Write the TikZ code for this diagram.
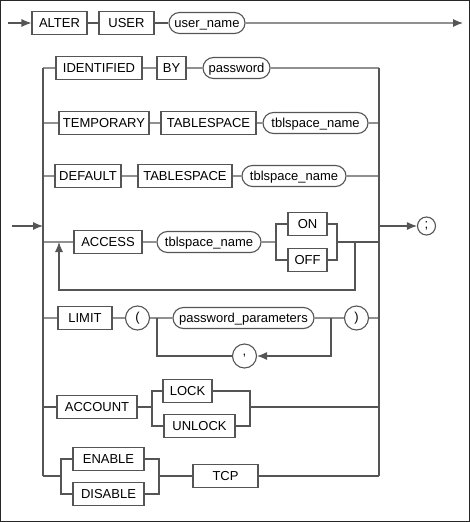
\documentclass[tikz,border=0pt]{standalone}
\usepackage{fontspec}
\setmainfont{Liberation Sans}
\usepackage{tikz}
\usetikzlibrary{shapes.misc,arrows.meta}
\definecolor{rail}{HTML}{555555}
\tikzset{kw/.style={draw=rail, text=black, minimum height=23pt, inner sep=1pt, text height=9.3pt, text depth=0pt, minimum width=#1},
kw/.default={40pt},
%ovals for names
var/.style={rounded rectangle, draw=rail, text=black, minimum height=21pt, inner sep=1pt, text height=9.3pt, text depth=0pt, minimum width=#1},
var/.default={60pt},
sym/.style={circle, draw=rail, text=black, minimum size=#1, inner sep=0pt},
sym/.default={24pt},
arr/.style={-{Latex[length=10pt,width=8pt]}}}

\begin{document}
\begin{tikzpicture}[x=1pt,y=-1pt,color=rail,line width=1.1pt,font=\fontsize{13}{15}\selectfont]
\useasboundingbox (0,0) rectangle (470,522);
\draw[black!85,line width=1.3pt] (0.65,0.65) rectangle (469.35,521.35);

% ALTER USER
\node[kw=55pt] (alter) at (59.5,23) {ALTER};
\node[kw=55pt] (user) at (126.5,23) {USER};
\node[var=78pt] (uname) at (207,23) {user\_name};
\coordinate (start) at (8,23);
\coordinate (stop) at (463,23);
\draw[arr] (start) -- (alter);
\draw (alter) -- (user) -- (uname);
\draw[arr] (uname) -- (stop);

% rails
\coordinate (ltop) at (43,68);
\coordinate (lbot) at (43,476);
\coordinate (rtop) at (379,68);
\coordinate (rbot) at (379,476);
\coordinate (in) at (12,226);
\node[sym=18pt] (semi) at (426.5,226) {;};
\draw (ltop) -- (lbot);
\draw (rtop) -- (rbot);
\draw[arr] (in) -- (in -| ltop);
\draw[arr] (in -| rtop) -- (semi);

% IDENTIFIED BY
\node[kw=86pt] (ident) at (99,68) {IDENTIFIED};
\node[kw=29pt] (by) at (171.5,68) {BY};
\node[var=69pt] (pwd) at (236.5,68) {password};
\draw (ident -| ltop) -- (ident) -- (by) -- (pwd) -- (pwd -| rtop);

% TEMPORARY TABLESPACE
\node[kw=90pt] (temp) at (104,123) {TEMPORARY};
\node[kw=95pt] (tsp1) at (208.5,123) {TABLESPACE};
\node[var=107pt] (tbl1) at (315.5,123) {tblspace\_name};
\draw (temp -| ltop) -- (temp) -- (tsp1) -- (tbl1) -- (tbl1 -| rtop);

% DEFAULT TABLESPACE
\node[kw=66pt] (dflt) at (88,176) {DEFAULT};
\node[kw=94pt] (tsp2) at (185,176) {TABLESPACE};
\node[var=106pt] (tbl2) at (294,176) {tblspace\_name};
\draw (dflt -| ltop) -- (dflt) -- (tsp2) -- (tbl2) -- (tbl2 -| rtop);

% ACCESS
\node[kw=68pt] (access) at (108,242) {ACCESS};
\node[var=106pt] (tbl3) at (209,242) {tblspace\_name};
\node[kw=39pt] (on) at (307.5,224) {ON};
\node[kw=39pt] (off) at (307.5,260) {OFF};
\coordinate (onl) at (276,242);
\coordinate (onr) at (337,242);
\coordinate (back) at (355,242);
\coordinate (backl) at (59,242);
\coordinate (backy) at (0,290);
\draw (access -| ltop) -- (access) -- (tbl3) -- (onl);
\draw (onr) -- (access -| rtop);
\draw[arr] (back) -- (back |- backy) -| (backl);

% LIMIT
\node[kw=54pt] (limit) at (85,318) {LIMIT};
\node[sym] (lpar) at (137.5,318) {(};
\node[var=143pt] (pwpar) at (243.5,318) {password\_parameters};
\node[sym] (rpar) at (356.5,318) {)};
\node[sym] (comma) at (244.5,356) {,};
\coordinate (pwl) at (157,318);
\coordinate (pwr) at (331,318);
\draw (limit -| ltop) -- (limit) -- (lpar) -- (pwpar) -- (rpar) -- (rpar -| rtop);
\draw[arr] (pwr) |- (comma);
\draw (comma) -| (pwl);

% ACCOUNT
\node[kw=80pt] (account) at (97,407) {ACCOUNT};
\node[kw=49pt] (lock) at (187.5,391) {LOCK};
\node[kw=71pt] (unlock) at (199.5,426) {UNLOCK};
\coordinate (lkl) at (152,407);
\coordinate (lkr) at (250,407);
\draw (account -| ltop) -- (account) -- (lkl);
\draw (lkr) -- (lkr -| rtop);

% ENABLE / DISABLE
\node[kw=71pt] (enable) at (108.5,459) {ENABLE};
\node[kw=71pt] (disable) at (108.5,494) {DISABLE};
\node[kw=65pt] (tcp) at (225.5,476) {TCP};
\coordinate (enl) at (61,476);
\coordinate (enr) at (159,476);
\draw (enl -| ltop) -- (enl);
\draw (enr) -- (tcp) -- (tcp -| rtop);

%choices
\foreach \a/\b/\l/\r in {on/off/onl/onr, lock/unlock/lkl/lkr, enable/disable/enl/enr}
  \draw (\a) -| (\l) |- (\b) (\a) -| (\r) |- (\b);

\end{tikzpicture}
\end{document}
